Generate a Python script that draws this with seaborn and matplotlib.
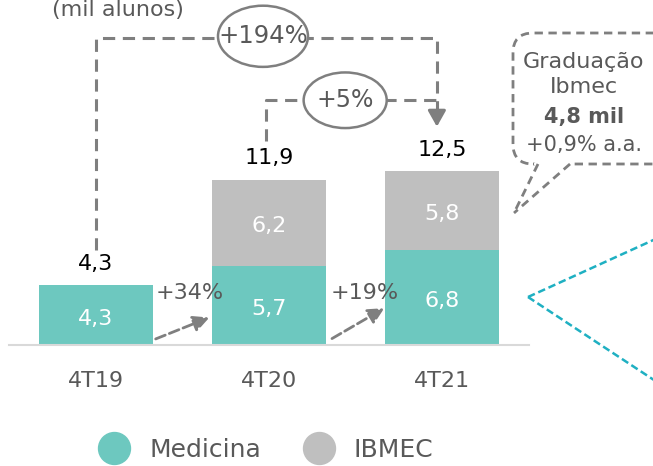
import numpy as np
import pandas as pd
import seaborn as sns
import matplotlib.pyplot as plt
from matplotlib.patches import Ellipse, FancyBboxPatch
from matplotlib.lines import Line2D

periods = ['4T19', '4T20', '4T21']
medicina = [4.3, 5.7, 6.8]
ibmec = [0.0, 6.2, 5.8]
totals = [4.3, 11.9, 12.5]
small_growth = ['+34%', '+19%']
big_growth = ['+194%', '+5%']

TEAL = '#6DC8BF'
GRAY = '#BFBFBF'
TXT = '#595959'
LINE = '#7F7F7F'

sns.set_theme(style='white')
plt.rcParams['font.family'] = ['DejaVu Sans']

df = pd.DataFrame({'periodo': periods, 'medicina': medicina,
                   'ibmec': ibmec, 'total': totals})

fig = plt.figure(figsize=(6.53, 4.66), dpi=100)
ax = fig.add_axes([0.0145, 0.2597, 0.795, 0.740])

# stacked bars: total in gray, medicina on top of it in teal
sns.barplot(data=df, x='periodo', y='total', color=GRAY, width=0.66,
            saturation=1, linewidth=0, ax=ax)
sns.barplot(data=df, x='periodo', y='medicina', color=TEAL, width=0.66,
            saturation=1, linewidth=0, ax=ax)

ax.set_xlim(-0.5, 2.5)
ax.set_ylim(0, 24.8)
ax.set_xlabel('')
ax.set_ylabel('')
ax.set_yticks([])
for s in ['top', 'right', 'left']:
    ax.spines[s].set_visible(False)
ax.spines['bottom'].set_color('#D9D9D9')
ax.spines['bottom'].set_linewidth(1.5)
ax.tick_params(axis='x', length=0, labelsize=16, labelcolor=TXT, pad=19)

# value labels
for i in range(len(periods)):
    ax.text(i, medicina[i] / 2 - 0.25, f'{medicina[i]:.1f}'.replace('.', ','),
            ha='center', va='center', color='white', fontsize=16)
    if ibmec[i] > 0:
        ax.text(i, medicina[i] + ibmec[i] / 2 - 0.25,
                f'{ibmec[i]:.1f}'.replace('.', ','),
                ha='center', va='center', color='white', fontsize=16)
    ax.text(i, totals[i] + 1.55, f'{totals[i]:.1f}'.replace('.', ','),
            ha='center', va='center', color='black', fontsize=16)

fig.text(0.18, 0.999, '(mil alunos)', ha='center', va='top',
         color=TXT, fontsize=16)

dash = dict(color=LINE, lw=2.2, linestyle=(0, (4, 2.5)))

# +194% connector
ax.plot([0, 0, 1.97, 1.97], [totals[0] + 2.5, 22.1, 22.1, 16.8], **dash,
        clip_on=False)
ax.annotate('', xy=(1.97, totals[2] + 3.0), xytext=(1.97, 16.9),
            arrowprops=dict(arrowstyle='-|>,head_length=0.8,head_width=0.45',
                            color=LINE, lw=2.2))
ax.add_patch(Ellipse((0.965, 22.2), 0.52, 4.4, fc='white', ec=LINE, lw=1.8,
                     zorder=3, clip_on=False))
ax.text(0.965, 22.2, big_growth[0], ha='center', va='center', color=TXT,
        fontsize=17.5, zorder=4)

# +5% connector
ax.plot([0.98, 0.98, 1.97], [totals[1] + 2.8, 17.6, 17.6], **dash)
ax.add_patch(Ellipse((1.44, 17.6), 0.48, 4.0, fc='white', ec=LINE, lw=1.8,
                     zorder=3))
ax.text(1.44, 17.6, big_growth[1], ha='center', va='center', color=TXT,
        fontsize=17, zorder=4)

# small growth arrows between bars
for j, (x0, x1) in enumerate([(0.33, 0.67), (1.35, 1.68)]):
    ax.annotate('', xy=(x1, medicina[j] / 2 - 0.1), xytext=(x0, 0.36),
                arrowprops=dict(arrowstyle='-|>,head_length=0.8,head_width=0.4',
                                color=LINE, lw=2, linestyle='--'))
    ax.text((x0 + x1) / 2 + 0.04, 3.75, small_growth[j], ha='center',
            va='center', color=TXT, fontsize=16)

# callout box (figure inches)
tr = fig.dpi_scale_trans
box = FancyBboxPatch((5.25, 3.14), 1.5, 1.07,
                     boxstyle='round,pad=0.12,rounding_size=0.2',
                     transform=tr, fill=False, ec=LINE, lw=2,
                     linestyle=(0, (3, 2)), clip_on=False)
fig.patches.append(box)
fig.add_artist(Line2D([5.36, 5.7], [3.02, 3.02], transform=tr, color='white',
                      lw=3))
fig.add_artist(Line2D([5.38, 5.14], [3.02, 2.53], transform=tr, color=LINE,
                      lw=2, linestyle=(0, (3, 2))))
fig.add_artist(Line2D([5.7, 5.14], [3.02, 2.53], transform=tr, color=LINE,
                      lw=2, linestyle=(0, (3, 2))))
fig.text(5.84, 4.04, 'Graduação', transform=tr, ha='center', va='center',
         color=TXT, fontsize=16)
fig.text(5.84, 3.79, 'Ibmec', transform=tr, ha='center', va='center',
         color=TXT, fontsize=16)
fig.text(5.84, 3.49, '4,8 mil', transform=tr, ha='center', va='center',
         color=TXT, fontsize=15, fontweight='bold')
fig.text(5.84, 3.21, '+0,9% a.a.', transform=tr, ha='center', va='center',
         color=TXT, fontsize=15)

# teal guide lines on the right
cyan = '#1FB0C2'
fig.add_artist(Line2D([5.28, 6.6], [1.69, 2.29], transform=tr, color=cyan,
                      lw=1.8, linestyle=(0, (3, 1.5))))
fig.add_artist(Line2D([5.28, 6.6], [1.69, 0.82], transform=tr, color=cyan,
                      lw=1.8, linestyle=(0, (3, 1.5))))

# legend
handles = [Line2D([], [], marker='o', ls='', markersize=23, color=c)
           for c in [TEAL, GRAY]]
fig.legend(handles, ['Medicina', 'IBMEC'], loc='center',
           bbox_to_anchor=(0.40, 0.034), ncol=2, frameon=False, fontsize=18,
           labelcolor=TXT, handletextpad=0.4, columnspacing=1.3)

fig.savefig('out.png', dpi=100)
